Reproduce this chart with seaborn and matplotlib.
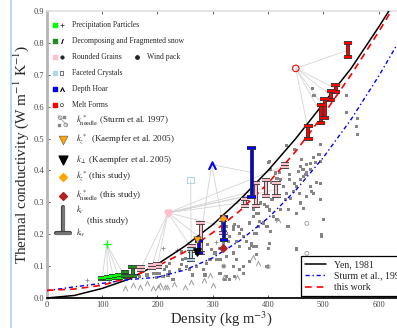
import numpy as np
import pandas as pd
import matplotlib
matplotlib.use("Agg")
import matplotlib.pyplot as plt
import matplotlib.patheffects as pe
from matplotlib.lines import Line2D
import seaborn as sns

sns.set_theme(style="ticks")
plt.rcParams["font.family"] = ["Liberation Serif", "DejaVu Serif"]
plt.rcParams["mathtext.fontset"] = "stix"

# model curves
curve_rho = [0, 50, 100, 150, 200, 250, 300, 350, 400, 450, 500, 550, 600, 633]
yen_k = [0.0, 0.008, 0.03, 0.06, 0.106, 0.163, 0.23, 0.31, 0.40, 0.50, 0.61, 0.72, 0.85, 0.94]
sturm_k = [0.023, 0.035, 0.046, 0.058, 0.065, 0.088, 0.126, 0.181, 0.251, 0.338, 0.441, 0.560, 0.696, 0.794]
this_k = [0.024, 0.028, 0.04, 0.064, 0.10, 0.145, 0.205, 0.275, 0.36, 0.46, 0.575, 0.70, 0.835, 0.93]

# Sturm et al. 1997 measurements (grey)
sq_rho = [401, 404, 413, 416, 407, 422, 428, 434, 431, 440, 446, 452, 458, 464, 470, 470, 458, 485, 494,
          437, 452, 470, 476, 482, 488, 458, 464, 494, 500, 497, 422, 410, 407, 398, 386, 383, 392, 398,
          404, 416, 383, 373, 367, 376, 370, 373, 367, 355, 349, 346, 340, 337, 331, 328, 322, 325, 319,
          313, 304, 307, 295, 289, 283, 286, 313, 319, 325, 337, 343, 337, 349, 340, 355, 313, 322, 452,
          398, 480, 483, 541, 541, 561, 560, 561, 433, 448, 494, 493, 461, 476, 467, 455, 482, 403, 421,
          439, 291, 298, 325, 337, 343, 349, 361, 379, 379, 373, 352, 258, 246, 243, 222, 216, 228, 210,
          198, 331, 355, 367, 379, 325, 156, 168, 181, 192, 199, 204, 213, 219, 228, 222, 240, 253, 262,
          264, 271, 244, 250, 497, 451, 436, 379, 382, 385, 403, 394, 463, 476, 491, 479, 494, 448, 439,
          457, 403, 400, 379, 370]
sq_k = [0.424, 0.403, 0.392, 0.376, 0.361, 0.371, 0.350, 0.329, 0.308, 0.313, 0.334, 0.350, 0.371, 0.382,
        0.392, 0.418, 0.413, 0.424, 0.429, 0.277, 0.266, 0.319, 0.350, 0.329, 0.361, 0.298, 0.282, 0.308,
        0.245, 0.198, 0.277, 0.256, 0.308, 0.287, 0.298, 0.266, 0.235, 0.224, 0.209, 0.245, 0.224, 0.256,
        0.235, 0.203, 0.172, 0.162, 0.156, 0.193, 0.203, 0.224, 0.230, 0.214, 0.193, 0.177, 0.209, 0.224,
        0.172, 0.156, 0.141, 0.120, 0.120, 0.109, 0.088, 0.072, 0.120, 0.099, 0.130, 0.141, 0.120, 0.099,
        0.088, 0.067, 0.078, 0.078, 0.057, 0.156, 0.099, 0.657, 0.634, 0.636, 0.581, 0.562, 0.539, 0.513,
        0.477, 0.466, 0.482, 0.450, 0.435, 0.403, 0.387, 0.398, 0.440, 0.429, 0.393, 0.387, 0.167, 0.151,
        0.203, 0.224, 0.177, 0.161, 0.177, 0.203, 0.266, 0.277, 0.214, 0.088, 0.120, 0.104, 0.083, 0.099,
        0.057, 0.067, 0.078, 0.057, 0.099, 0.114, 0.135, 0.067, 0.082, 0.066, 0.072, 0.078, 0.063, 0.078,
        0.088, 0.072, 0.057, 0.109, 0.088, 0.099, 0.120, 0.072, 0.099, 0.146, 0.125, 0.193, 0.151, 0.224,
        0.287, 0.266, 0.240, 0.276, 0.292, 0.402, 0.423, 0.449, 0.334, 0.360, 0.360, 0.371, 0.329, 0.172,
        0.156, 0.161, 0.166]
caret_rho = [156, 168, 181, 192, 204, 217, 141, 213, 201, 249, 285, 343, 295, 418, 373, 382, 230, 260, 300, 320]
caret_k = [0.041, 0.036, 0.047, 0.031, 0.041, 0.036, 0.031, 0.036, 0.036, 0.036, 0.057, 0.067, 0.072,
           0.245, 0.130, 0.109, 0.045, 0.050, 0.040, 0.065]
plus_rho = [72, 210, 235, 305]
plus_k = [0.057, 0.157, 0.151, 0.175]
ring_rho = [470, 470, 400, 320]
ring_k = [0.234, 0.140, 0.098, 0.100]

# k_c / k_w ranges of this study, by snow type
bar_rho = [100, 110, 120, 130, 140, 141, 155, 170, 190, 200, 262, 278, 318, 358, 378, 396, 415, 430,
           261, 275, 320, 370, 473, 496, 502, 514, 522, 545]
bar_lo = [0.058, 0.060, 0.062, 0.064, 0.066, 0.068, 0.068, 0.088, 0.095, 0.098, 0.148, 0.140, 0.205,
          0.290, 0.290, 0.320, 0.320, 0.410, 0.120, 0.140, 0.182, 0.318, 0.500, 0.550, 0.565, 0.620,
          0.645, 0.755]
bar_hi = [0.064, 0.066, 0.068, 0.071, 0.073, 0.080, 0.097, 0.096, 0.104, 0.108, 0.162, 0.235, 0.245,
          0.310, 0.360, 0.370, 0.360, 0.420, 0.155, 0.180, 0.255, 0.470, 0.540, 0.605, 0.625, 0.648,
          0.668, 0.800]
bar_type = ["PP"] * 5 + ["DF"] * 2 + ["RG"] * 11 + ["FC"] + ["DH"] * 3 + ["MF"] * 6

type_names = ["PP", "DF", "RG", "FC", "DH", "MF"]
type_labels = ["Precipitation Particles", "Decomposing and Fragmented snow", "Rounded Grains",
               "Faceted Crystals", "Depth Hoar", "Melt Forms"]
type_colors = ["lime", "forestgreen", "pink", "lightblue", "blue", "red"]
# floating type labels in the plot, joined by grey lines to their bars
tag_rho = {"PP": 108, "RG": 219, "FC": 260, "DH": 298, "MF": 450}
tag_k = {"PP": 0.170, "RG": 0.267, "FC": 0.370, "DH": 0.418, "MF": 0.720}
tag_marker = {"PP": "+", "RG": "$\u2665$", "FC": "s", "DH": r"$\wedge$", "MF": "o"}

kaemp_z_rho, kaemp_z_k = [271], [0.183]
kaemp_perp_rho, kaemp_perp_k = [272], [0.143]
study_z_rho, study_z_k = [319], [0.252]
study_needle_rho, study_needle_k = [318], [0.157]

fig = plt.figure(figsize=(3.97, 3.28), dpi=100)
ax = fig.add_axes([0.118, 0.0915, 0.882, 0.875])
fig.add_artist(Line2D([11 / 397, 11 / 397], [0, 1], color="#a9d3f2", lw=1.2))

bars = pd.DataFrame({"rho": bar_rho, "lo": bar_lo, "hi": bar_hi, "type": bar_type})
bars["mid"] = (bars["lo"] + bars["hi"]) / 2

# grey connector lines
for t in tag_rho:
    sub = bars[bars["type"] == t]
    for _, r in sub.iterrows():
        ax.plot([tag_rho[t], r["rho"]], [tag_k[t], r["mid"]], color="#d4d4d4", lw=0.6, zorder=1)

sns.scatterplot(x=sq_rho, y=sq_k, marker="s", s=5, color="#858585", edgecolor="none",
                ax=ax, legend=False, zorder=2)
ax.scatter(caret_rho, caret_k, marker=r"$\wedge$", s=14, color="#a0a0a0", lw=0.3, zorder=2)
ax.scatter(plus_rho, plus_k, marker="+", s=10, color="#888888", lw=0.6, zorder=2)
ax.scatter(ring_rho, ring_k, marker="o", s=8, facecolor="none", edgecolor="#999999", lw=0.6, zorder=2)

sns.lineplot(x=curve_rho, y=yen_k, color="black", lw=1.1, ax=ax, zorder=3)
sns.lineplot(x=curve_rho, y=sturm_k, color="blue", lw=1.0, ls=(0, (3, 2, 1, 2)), ax=ax, zorder=3)
sns.lineplot(x=curve_rho, y=this_k, color="red", lw=1.2, ls=(0, (4, 3)), ax=ax, zorder=3)

outline = [pe.Stroke(linewidth=2.8, foreground="#333333"), pe.Normal()]
for t, c in zip(type_names, type_colors):
    sub = bars[bars["type"] == t]
    eb = ax.errorbar(sub["rho"], sub["mid"], yerr=(sub["hi"] - sub["lo"]) / 2, fmt="none",
                     ecolor=c, elinewidth=1.6, capsize=3, capthick=1.6, zorder=4)
    for art in list(eb.lines[1]) + list(eb.lines[2]):
        art.set_path_effects(outline)

for t, c in zip(type_names, type_colors):
    if t not in tag_rho:
        continue
    m = tag_marker[t]
    if m in ("s", "o"):
        ax.scatter([tag_rho[t]], [tag_k[t]], marker=m, s=22, facecolor="none", edgecolor=c, lw=0.8, zorder=5)
    else:
        ax.scatter([tag_rho[t]], [tag_k[t]], marker=m, s=30, color=c, lw=0.9, zorder=5)

ax.scatter(kaemp_z_rho, kaemp_z_k, marker="v", s=28, color="orange", edgecolor="#333333", lw=0.4, zorder=6)
ax.scatter(kaemp_perp_rho, kaemp_perp_k, marker="v", s=28, color="black", zorder=6)
ax.scatter(study_z_rho, study_z_k, marker="D", s=14, color="orange", edgecolor="#b07000", lw=0.4, zorder=6)
ax.scatter(study_needle_rho, study_needle_k, marker="D", s=14, color="firebrick", zorder=6)

# snow type key, upper left
key_y = [0.951, 0.895, 0.840, 0.784, 0.728, 0.672]
key_sym = ["+", "$/$", "o", "s", r"$\wedge$", "o"]
for yy, lab, c, sym in zip(key_y, type_labels, type_colors, key_sym):
    ax.scatter([0.023], [yy], marker="s", s=10, color=c, transform=ax.transAxes, clip_on=False, zorder=6)
    if sym in ("s", "o") and lab != "Rounded Grains":
        ax.scatter([0.043], [yy], marker=sym, s=5, facecolor="none", edgecolor="#333333", lw=0.5,
                   transform=ax.transAxes, zorder=6)
    else:
        ax.scatter([0.043], [yy], marker=sym, s=6 if sym == "o" else 9, color="#222222", lw=0.5,
                   transform=ax.transAxes, zorder=6)
    ax.text(0.071, yy, lab, fontsize=5.5, va="center", transform=ax.transAxes)
ax.scatter([0.257], [0.840], marker="o", s=6, color="#222222", transform=ax.transAxes, zorder=6)
ax.text(0.286, 0.840, "Wind pack", fontsize=5.5, va="center", transform=ax.transAxes)

ax.plot([0.033, 0.058], [0.635, 0.600], color="#999999", lw=0.6, transform=ax.transAxes)
ax.scatter([0.038, 0.054], [0.628, 0.603], marker="o", s=7, facecolor="none", edgecolor="#888888",
           lw=0.6, transform=ax.transAxes)
ax.scatter([0.050, 0.036], [0.630, 0.604], marker="s", s=4, color="#888888", transform=ax.transAxes)
ax.text(0.083, 0.617, r"$k^*_{\rm needle}$ (Sturm et al. 1997)", fontsize=6.5, va="center",
        transform=ax.transAxes)
ax.scatter([0.046], [0.551], marker="v", s=40, color="orange", edgecolor="#555555", lw=0.4,
           transform=ax.transAxes)
ax.text(0.083, 0.551, r"$k_z^*$  (Kaempfer et al. 2005)", fontsize=6.5, va="center", transform=ax.transAxes)
ax.scatter([0.046], [0.481], marker="v", s=40, color="black", transform=ax.transAxes)
ax.text(0.083, 0.481, r"$k_\perp$ (Kaempfer et al. 2005)", fontsize=6.5, va="center", transform=ax.transAxes)
ax.scatter([0.046], [0.422], marker="D", s=16, color="orange", transform=ax.transAxes)
ax.text(0.083, 0.422, r"$k_z^*$ (this study)", fontsize=6.5, va="center", transform=ax.transAxes)
ax.scatter([0.046], [0.355], marker="D", s=16, color="firebrick", transform=ax.transAxes)
ax.text(0.083, 0.355, r"$k^*_{\rm needle}$ (this study)", fontsize=6.5, va="center", transform=ax.transAxes)
ax.plot([0.046, 0.046], [0.226, 0.318], color="#777777", lw=2, transform=ax.transAxes,
        path_effects=[pe.Stroke(linewidth=3, foreground="#444444"), pe.Normal()])
ax.plot([0.026, 0.066], [0.226, 0.226], color="#777777", lw=2, transform=ax.transAxes,
        path_effects=[pe.Stroke(linewidth=3, foreground="#444444"), pe.Normal()])
ax.text(0.083, 0.307, r"$k_c$", fontsize=6, va="center", transform=ax.transAxes)
ax.text(0.114, 0.268, "(this study)", fontsize=6.5, va="center", transform=ax.transAxes)
ax.text(0.083, 0.226, r"$k_w$", fontsize=6, va="center", transform=ax.transAxes)

handles = [Line2D([], [], color="black", lw=1.1),
           Line2D([], [], color="blue", lw=1.0, ls=(0, (3, 2, 1, 2))),
           Line2D([], [], color="red", lw=1.2, ls=(0, (4, 3)))]
leg = ax.legend(handles, ["Yen, 1981", "Sturm et al., 1997", "this work"], loc="lower left",
                bbox_to_anchor=(0.726, 0.007), borderaxespad=0, fontsize=7, fancybox=False,
                framealpha=1, edgecolor="black", handlelength=2.2, labelspacing=0.25,
                borderpad=0.4)
leg.get_frame().set_linewidth(0.9)

x_ticks = [0, 100, 200, 300, 400, 500, 600]
y_ticks = [0.0, 0.1, 0.2, 0.3, 0.4, 0.5, 0.6, 0.7, 0.8, 0.9]
ax.set_xlim(0, 633)
ax.set_ylim(0, 0.9)
ax.set_xticks(x_ticks)
ax.set_yticks(y_ticks)
ax.set_yticklabels([f"{v:.1f}" for v in y_ticks])
ax.tick_params(labelsize=6, direction="in", length=2.5, top=True, width=0.6, colors="#444444", pad=2)
ax.set_xlabel(r"Density (kg m$^{-3}$)", fontsize=10.5, labelpad=0)
ax.set_ylabel(r"Thermal conductivity (W m$^{-1}$ K$^{-1}$)", fontsize=11, labelpad=2)
ax.spines["left"].set_color("#b5b5b5")
ax.spines["left"].set_linewidth(2)
ax.spines["top"].set_color("#e2e2e2")
ax.spines["bottom"].set_color("black")
ax.spines["right"].set_visible(False)

fig.savefig("out.png", dpi=100)
